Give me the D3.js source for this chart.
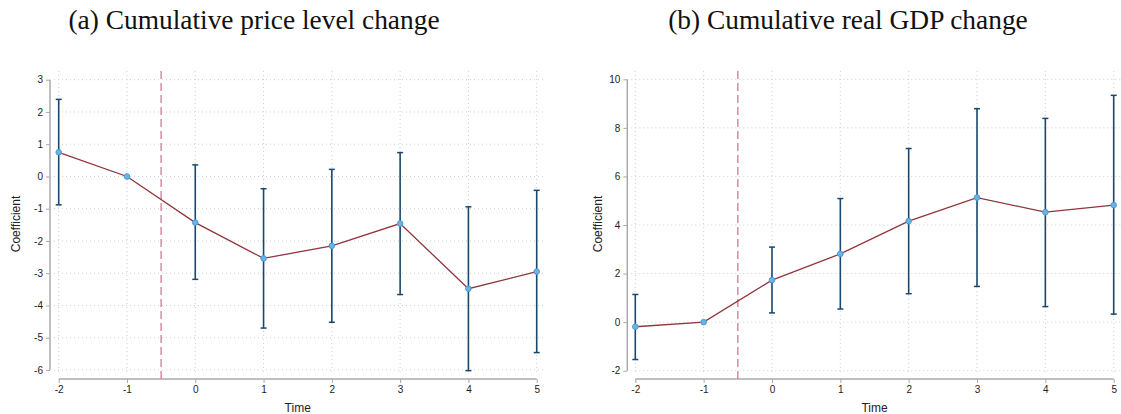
<!DOCTYPE html>
<html>
<head>
<meta charset="utf-8">
<script src="https://cdn.jsdelivr.net/npm/d3@7/dist/d3.min.js"></script>
<style>
  html, body { margin: 0; padding: 0; background: #fff; }
  svg { display: block; }
</style>
</head>
<body>
<svg id="chart" width="1121" height="414"></svg>
<script>
// Event-study horizons
const periods = [-2, -1, 0, 1, 2, 3, 4, 5];

// Panel (a): cumulative price level change
const priceCoef  = [0.75, 0, -1.43, -2.54, -2.15, -1.46, -3.48, -2.95];
const priceLower = [-0.88, null, -3.19, -4.70, -4.52, -3.66, -6.02, -5.46];
const priceUpper = [2.39, null, 0.36, -0.38, 0.22, 0.74, -0.94, -0.43];
const priceTicks = [-6, -5, -4, -3, -2, -1, 0, 1, 2, 3];

// Panel (b): cumulative real GDP change
const gdpCoef  = [-0.19, 0, 1.73, 2.81, 4.16, 5.13, 4.53, 4.82];
const gdpLower = [-1.54, null, 0.38, 0.54, 1.17, 1.47, 0.64, 0.33];
const gdpUpper = [1.14, null, 3.09, 5.09, 7.15, 8.79, 8.39, 9.34];
const gdpTicks = [-2, 0, 2, 4, 6, 8, 10];

const titles = ["(a) Cumulative price level change", "(b) Cumulative real GDP change"];
const xLabel = "Time";
const yLabel = "Coefficient";
const eventLine = -0.5;

const svg = d3.select("#chart");
const plain = d => String(d);   // ASCII hyphen for negatives

const panels = [
  { title: titles[0], coef: priceCoef, lo: priceLower, hi: priceUpper, ticks: priceTicks,
    x0: 58.7, x1: 536.7, yAxisX: 50, ylabX: 16, yDom: [-6, 3], yRange: [370, 79.7], gridRight: 546, titleX: 254 },
  { title: titles[1], coef: gdpCoef, lo: gdpLower, hi: gdpUpper, ticks: gdpTicks,
    x0: 635.3, x1: 1113.7, yAxisX: 627.3, ylabX: 598, yDom: [-2, 10], yRange: [370.7, 79.3], gridRight: 1121, titleX: 848 }
];

const plotTop = 71;
const xAxisY = 379;

panels.forEach(p => {
  const x = d3.scaleLinear().domain([-2, 5]).range([p.x0, p.x1]);
  const y = d3.scaleLinear().domain(p.yDom).range(p.yRange);
  const g = svg.append("g");

  // title
  g.append("text")
    .attr("x", p.titleX).attr("y", 29)
    .attr("text-anchor", "middle")
    .attr("font-family", "'Liberation Serif', 'DejaVu Serif', serif")
    .attr("font-size", 27.4)
    .attr("fill", "#111")
    .text(p.title);

  // dotted grid
  g.append("g").selectAll("line").data(p.ticks).join("line")
    .attr("x1", p.yAxisX + 4).attr("x2", p.gridRight)
    .attr("y1", d => y(d)).attr("y2", d => y(d))
    .attr("stroke", "#cfcfcf").attr("stroke-width", 1)
    .attr("stroke-dasharray", "1,3");
  g.append("g").selectAll("line").data(periods).join("line")
    .attr("x1", d => x(d)).attr("x2", d => x(d))
    .attr("y1", plotTop).attr("y2", xAxisY - 4)
    .attr("stroke", "#cfcfcf").attr("stroke-width", 1)
    .attr("stroke-dasharray", "1,3");

  // y axis
  const yAxis = d3.axisLeft(y).tickValues(p.ticks).tickSize(4).tickPadding(3).tickFormat(plain);
  const ya = g.append("g").attr("transform", `translate(${p.yAxisX},0)`).call(yAxis);
  ya.select(".domain").attr("stroke", "#aaa").attr("stroke-width", 1.5)
    .attr("d", `M0,${y(p.yDom[0])}V${y(p.yDom[1])}`);
  ya.selectAll(".tick line").attr("stroke", "#aaa");
  ya.selectAll(".tick text").attr("font-family", "'Liberation Sans', Arial, sans-serif")
    .attr("font-size", 10).attr("fill", "#222");

  // x axis
  const xAxis = d3.axisBottom(x).tickValues(periods).tickSize(4).tickPadding(3).tickFormat(plain);
  const xa = g.append("g").attr("transform", `translate(0,${xAxisY})`).call(xAxis);
  xa.select(".domain").attr("stroke", "#aaa").attr("stroke-width", 1.5)
    .attr("d", `M${x(-2)},0H${x(5)}`);
  xa.selectAll(".tick line").attr("stroke", "#aaa");
  xa.selectAll(".tick text").attr("font-family", "'Liberation Sans', Arial, sans-serif")
    .attr("font-size", 10).attr("fill", "#222");

  // axis titles
  g.append("text")
    .attr("x", (p.x0 + p.x1) / 2).attr("y", 412)
    .attr("text-anchor", "middle")
    .attr("font-family", "'Liberation Sans', Arial, sans-serif")
    .attr("font-size", 12).attr("fill", "#222")
    .text(xLabel);
  g.append("text")
    .attr("transform", `translate(${p.ylabX},224) rotate(-90)`)
    .attr("text-anchor", "middle")
    .attr("dy", "0.35em")
    .attr("font-family", "'Liberation Sans', Arial, sans-serif")
    .attr("font-size", 12).attr("fill", "#222")
    .text(yLabel);

  // treatment timing line
  g.append("line")
    .attr("x1", x(eventLine)).attr("x2", x(eventLine))
    .attr("y1", plotTop).attr("y2", xAxisY)
    .attr("stroke", "#d88ba8").attr("stroke-width", 1.5)
    .attr("stroke-dasharray", "8,4");

  const rows = periods.map((t, i) => ({ t, c: p.coef[i], lo: p.lo[i], hi: p.hi[i] }));
  const ci = rows.filter(r => r.lo !== null);

  // confidence intervals
  g.append("g").selectAll("line").data(ci).join("line")
    .attr("x1", d => x(d.t)).attr("x2", d => x(d.t))
    .attr("y1", d => y(d.lo)).attr("y2", d => y(d.hi))
    .attr("stroke", "#1a476f").attr("stroke-width", 1.6);
  ["lo", "hi"].forEach(k => {
    g.append("g").selectAll("line").data(ci).join("line")
      .attr("x1", d => x(d.t) - 3).attr("x2", d => x(d.t) + 3)
      .attr("y1", d => y(d[k])).attr("y2", d => y(d[k]))
      .attr("stroke", "#1a476f").attr("stroke-width", 1.5);
  });

  // point-estimate path
  g.append("path").datum(rows)
    .attr("d", d3.line().x(d => x(d.t)).y(d => y(d.c)))
    .attr("fill", "none").attr("stroke", "#90353b").attr("stroke-width", 1.3);

  // markers
  g.append("g").selectAll("circle").data(rows).join("circle")
    .attr("cx", d => x(d.t)).attr("cy", d => y(d.c)).attr("r", 2.8)
    .attr("fill", "#6ab4e4").attr("stroke", "#4a9ad4").attr("stroke-width", 1);
});
</script>
</body>
</html>
